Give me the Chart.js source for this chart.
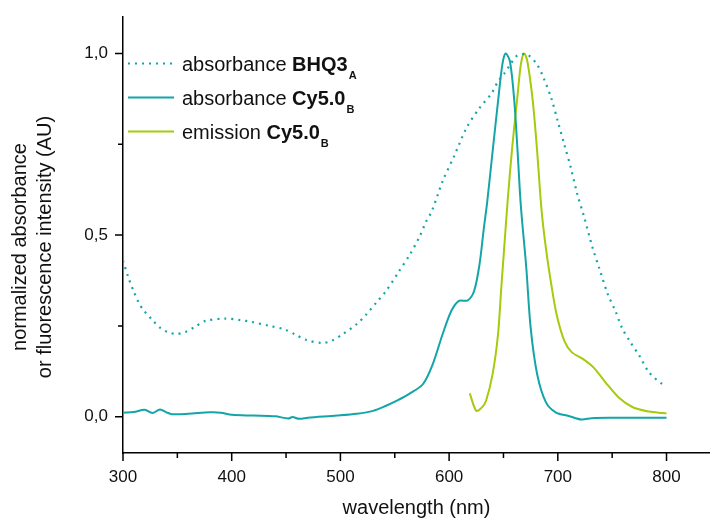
<!DOCTYPE html>
<html>
<head>
<meta charset="utf-8">
<script src="https://cdn.jsdelivr.net/npm/chart.js@4/dist/chart.umd.min.js"></script>
<style>
  body { margin: 0; background: #fff; }
  #wrap { width: 710px; height: 520px; position: relative; }
</style>
</head>
<body>
<div id="wrap"><canvas id="spectra"></canvas></div>
<script>
// absorbance BHQ3 (dotted)
const bhqWl = [300, 305, 310, 315, 319, 327, 334, 342, 350, 357, 366, 376, 394, 408, 418, 435, 449, 458, 469, 483, 492, 502, 515, 524, 533, 542, 553, 564, 573, 579, 584, 594, 605, 616, 628, 639, 645, 651, 657, 663, 672, 681, 687, 694, 700, 706, 712, 718, 724, 732, 738, 746, 753, 759, 767, 775, 784, 796, 800];
const bhqAbs = [0.43, 0.383, 0.344, 0.311, 0.293, 0.266, 0.245, 0.232, 0.228, 0.233, 0.247, 0.264, 0.27, 0.266, 0.261, 0.25, 0.24, 0.227, 0.211, 0.203, 0.209, 0.227, 0.255, 0.282, 0.314, 0.346, 0.396, 0.447, 0.497, 0.538, 0.565, 0.648, 0.72, 0.795, 0.85, 0.89, 0.923, 0.946, 0.973, 0.995, 0.997, 0.969, 0.932, 0.877, 0.813, 0.749, 0.685, 0.612, 0.552, 0.465, 0.41, 0.337, 0.291, 0.245, 0.204, 0.168, 0.122, 0.09, 0.088];

// absorbance Cy5.0 (solid teal)
const cyWl = [300, 310, 320, 327, 334, 340, 345, 360, 380, 390, 400, 420, 440, 452, 456, 462, 470, 497, 515, 530, 542, 552, 564, 576, 585, 594, 602, 609, 617, 623, 628, 632, 635, 640, 645, 649, 652, 656, 660, 663, 666, 671, 675, 681, 689, 698, 710, 722, 731, 750, 800];
const cyAbs = [0.011, 0.013, 0.019, 0.01, 0.02, 0.012, 0.007, 0.008, 0.012, 0.011, 0.005, 0.003, 0.001, -0.005, -0.001, -0.006, -0.003, 0.003, 0.008, 0.016, 0.03, 0.044, 0.064, 0.09, 0.145, 0.227, 0.291, 0.319, 0.32, 0.346, 0.42, 0.52, 0.59, 0.73, 0.868, 0.97, 1.0, 0.978, 0.868, 0.73, 0.58, 0.41, 0.245, 0.117, 0.04, 0.012, 0.002, -0.008, -0.004, -0.003, -0.003];

// emission Cy5.0 (solid green)
const emWl = [619, 625, 630, 634, 640, 645, 648, 651, 654, 658, 663, 666, 669, 672, 677, 681, 685, 689, 694, 699, 706, 713, 723, 733, 744, 756, 769, 784, 796, 800];
const cyEm = [0.064, 0.016, 0.025, 0.044, 0.117, 0.227, 0.355, 0.478, 0.6, 0.74, 0.886, 0.97, 1.0, 0.978, 0.868, 0.73, 0.57, 0.465, 0.364, 0.28, 0.209, 0.177, 0.159, 0.135, 0.094, 0.053, 0.026, 0.014, 0.01, 0.009];

const xMajor = [300, 400, 500, 600, 700, 800];
const yMajor = [0, 0.5, 1.0];

const teal = '#14a5a8';
const lime = '#a5cb0c';
const FONT = "'Liberation Sans', Arial, sans-serif";

function pts(xs, ys) {
  return xs.map((x, i) => ({ x: x, y: ys[i] }));
}

const legendRows = [
  { label: 'absorbance ', bold: 'BHQ3', sub: 'A', color: teal, dash: [2, 5] },
  { label: 'absorbance ', bold: 'Cy5.0', sub: 'B', color: teal, dash: [] },
  { label: 'emission ', bold: 'Cy5.0', sub: 'B', color: lime, dash: [] }
];

// tick marks, y title and legend
const decor = {
  id: 'decor',
  afterDraw(chart) {
    const ctx = chart.ctx;
    const xs = chart.scales.x, ys = chart.scales.y;
    ctx.save();
    ctx.strokeStyle = '#000';
    ctx.lineWidth = 1.5;
    ctx.beginPath();
    for (let v = 300; v <= xs.max; v += 50) {
      const px = xs.getPixelForValue(v);
      const len = v % 100 === 0 ? 8 : 5;
      ctx.moveTo(px, ys.bottom);
      ctx.lineTo(px, ys.bottom + len);
    }
    for (let v = 0; v <= 1.0001; v += 0.25) {
      const py = ys.getPixelForValue(v);
      const len = Math.abs(v * 2 - Math.round(v * 2)) < 1e-6 ? 8 : 5;
      ctx.moveTo(xs.left, py);
      ctx.lineTo(xs.left - len, py);
    }
    ctx.stroke();

    // y axis title, two lines
    ctx.fillStyle = '#111';
    ctx.font = '20px ' + FONT;
    ctx.textAlign = 'center';
    ctx.textBaseline = 'alphabetic';
    ctx.translate(0, 247);
    ctx.rotate(-Math.PI / 2);
    ctx.fillText('normalized absorbance', 0, 26);
    ctx.fillText('or fluorescence intensity (AU)', 0, 51);
    ctx.restore();

    // legend
    ctx.save();
    legendRows.forEach((r, i) => {
      const ly = 63.5 + i * 34;
      ctx.strokeStyle = r.color;
      ctx.lineWidth = 2;
      ctx.setLineDash(r.dash);
      ctx.beginPath();
      ctx.moveTo(128, ly);
      ctx.lineTo(174, ly);
      ctx.stroke();
      ctx.setLineDash([]);
      let tx = 182;
      const by = ly + 7.5;
      ctx.fillStyle = '#111';
      ctx.textAlign = 'left';
      ctx.textBaseline = 'alphabetic';
      ctx.font = '20px ' + FONT;
      ctx.fillText(r.label, tx, by);
      tx += ctx.measureText(r.label).width;
      ctx.font = 'bold 20px ' + FONT;
      ctx.fillText(r.bold, tx, by);
      tx += ctx.measureText(r.bold).width + 1;
      ctx.font = 'bold 11px ' + FONT;
      ctx.fillText(r.sub, tx, by + 8);
    });
    ctx.restore();
  }
};

new Chart(document.getElementById('spectra'), {
  type: 'line',
  data: {
    datasets: [
      {
        label: 'absorbance BHQ3',
        data: pts(bhqWl, bhqAbs),
        borderColor: teal,
        borderWidth: 2.2,
        borderDash: [2, 5],
        pointRadius: 0,
        tension: 0.3
      },
      {
        label: 'absorbance Cy5.0',
        data: pts(cyWl, cyAbs),
        borderColor: teal,
        borderWidth: 2,
        pointRadius: 0,
        tension: 0.3
      },
      {
        label: 'emission Cy5.0',
        data: pts(emWl, cyEm),
        borderColor: lime,
        borderWidth: 2,
        pointRadius: 0,
        tension: 0.3
      }
    ]
  },
  options: {
    responsive: true,
    maintainAspectRatio: false,
    animation: false,
    layout: { padding: { top: 15, right: 0, left: 0, bottom: 0 } },
    plugins: {
      legend: { display: false },
      tooltip: { enabled: false }
    },
    scales: {
      x: {
        type: 'linear',
        min: 300,
        max: 840,
        afterFit(s) { s.height = 67; },
        border: { display: true, color: '#000', width: 1.5 },
        grid: { drawOnChartArea: false, tickLength: 8, tickColor: 'rgba(0,0,0,0)' },
        ticks: {
          stepSize: 100,
          includeBounds: false,
          autoSkip: false,
          maxRotation: 0,
          padding: 6,
          color: '#111',
          font: { family: FONT, size: 17 },
          callback: (v) => xMajor.includes(v) ? String(v) : ''
        },
        title: {
          display: true,
          text: 'wavelength (nm)',
          color: '#111',
          font: { family: FONT, size: 20, lineHeight: 1.2 },
          padding: { top: 0, bottom: 0 }
        }
      },
      y: {
        min: -0.1,
        max: 1.1,
        afterFit(s) { s.width = 123; },
        border: { display: true, color: '#000', width: 1.5 },
        grid: { drawOnChartArea: false, tickLength: 8, tickColor: 'rgba(0,0,0,0)' },
        ticks: {
          stepSize: 0.5,
          includeBounds: false,
          padding: 7,
          color: '#111',
          font: { family: FONT, size: 17 },
          callback: (v) => yMajor.some(m => Math.abs(m - v) < 1e-6) ? v.toFixed(1).replace('.', ',') : ''
        }
      }
    }
  },
  plugins: [decor]
});
</script>
</body>
</html>
